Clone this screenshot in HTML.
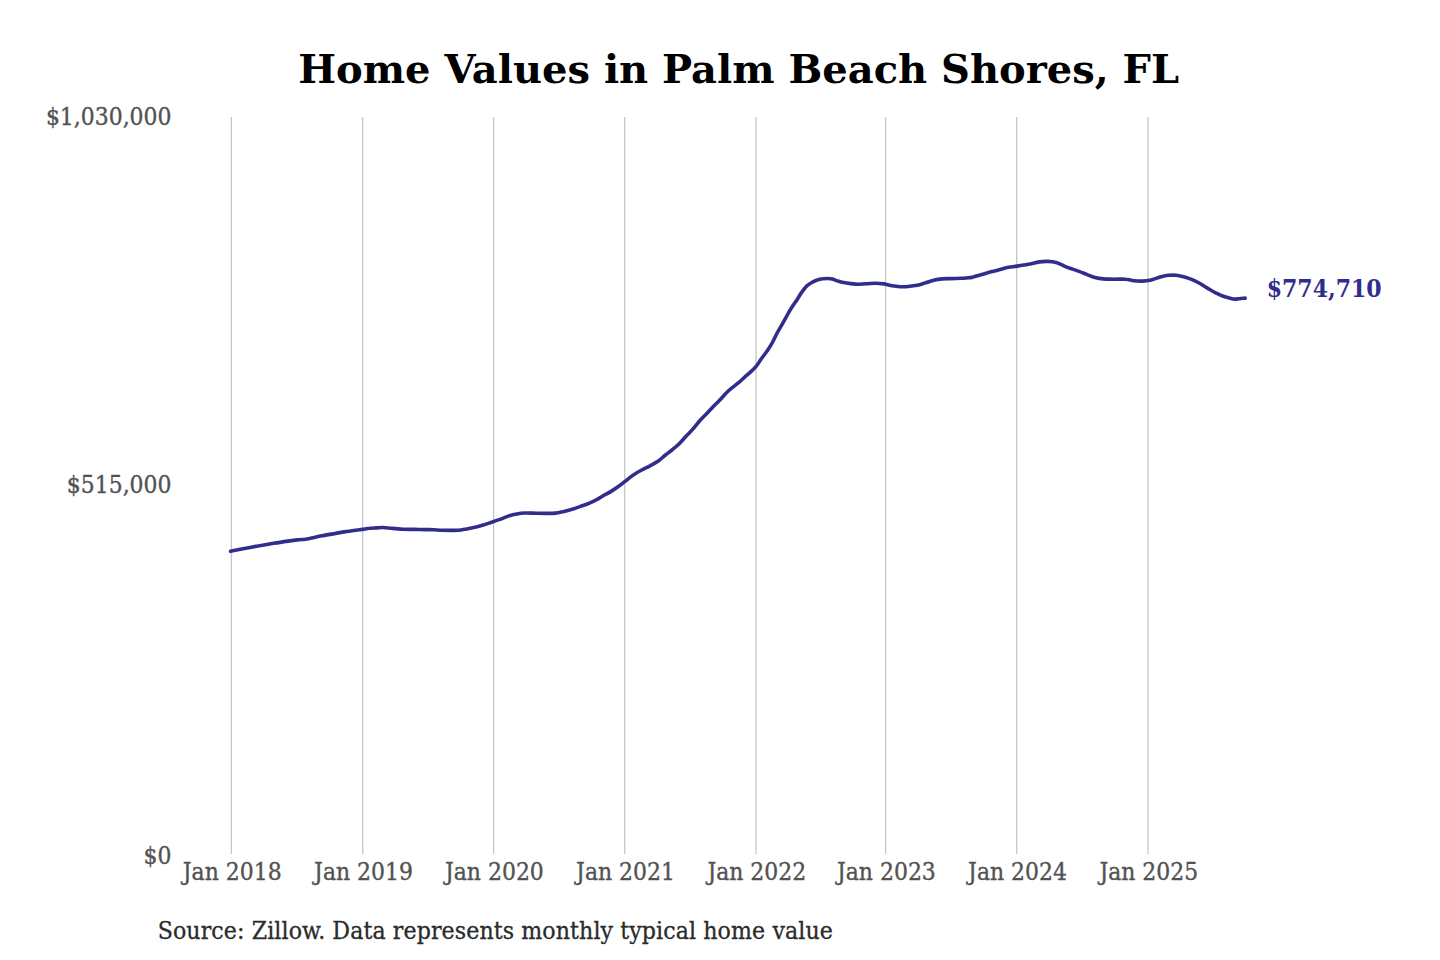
<!DOCTYPE html>
<html><head><meta charset="utf-8"><title>Home Values in Palm Beach Shores, FL</title>
<style>
html,body{margin:0;padding:0;background:#fff;}
body{width:1440px;height:960px;overflow:hidden;}
svg{display:block;}
.t{font-family:"DejaVu Serif","Liberation Serif",serif;font-weight:bold;font-size:40px;fill:#000;}
.ax{font-family:"DejaVu Serif Condensed","DejaVu Serif","Liberation Serif",serif;font-stretch:condensed;font-size:24.4px;fill:#525252;stroke:#525252;stroke-width:0.35px;}
.src{font-family:"DejaVu Serif Condensed","DejaVu Serif","Liberation Serif",serif;font-stretch:condensed;font-size:24.6px;letter-spacing:0.09px;fill:#2b2b2b;stroke:#2b2b2b;stroke-width:0.3px;}
.val{font-family:"DejaVu Serif Condensed","DejaVu Serif","Liberation Serif",serif;font-stretch:condensed;font-weight:bold;font-size:24.5px;fill:#322d8c;}
</style></head>
<body>
<svg width="1440" height="960" viewBox="0 0 1440 960">
<rect width="1440" height="960" fill="#fff"/>
<text class="t" x="738.7" y="83" text-anchor="middle">Home Values in Palm Beach Shores, FL</text>
<g stroke="#c6c6c6" stroke-width="1.3">
<line x1="231.4" y1="117.0" x2="231.4" y2="854.0"/>
<line x1="362.7" y1="117.0" x2="362.7" y2="854.0"/>
<line x1="493.6" y1="117.0" x2="493.6" y2="854.0"/>
<line x1="624.7" y1="117.0" x2="624.7" y2="854.0"/>
<line x1="756.0" y1="117.0" x2="756.0" y2="854.0"/>
<line x1="885.6" y1="117.0" x2="885.6" y2="854.0"/>
<line x1="1016.7" y1="117.0" x2="1016.7" y2="854.0"/>
<line x1="1148.0" y1="117.0" x2="1148.0" y2="854.0"/>
</g>
<g class="ax" text-anchor="end">
<text transform="translate(171.5 124.5) scale(1 0.96)">$1,030,000</text>
<text transform="translate(171.5 492.6) scale(1 0.96)">$515,000</text>
<text transform="translate(171.5 863.9) scale(1 0.96)">$0</text>
</g>
<g class="ax" text-anchor="middle">
<text transform="translate(232.2 880) scale(1 0.96)">Jan 2018</text>
<text transform="translate(363.5 880) scale(1 0.96)">Jan 2019</text>
<text transform="translate(494.4 880) scale(1 0.96)">Jan 2020</text>
<text transform="translate(625.5 880) scale(1 0.96)">Jan 2021</text>
<text transform="translate(756.8 880) scale(1 0.96)">Jan 2022</text>
<text transform="translate(886.4 880) scale(1 0.96)">Jan 2023</text>
<text transform="translate(1017.5 880) scale(1 0.96)">Jan 2024</text>
<text transform="translate(1148.8 880) scale(1 0.96)">Jan 2025</text>
</g>
<path d="M230.6 551.3 C232.4 550.9 238.0 549.7 241.7 549.0 C245.4 548.3 249.1 547.6 252.8 546.9 C256.5 546.2 260.2 545.6 263.9 545.0 C267.6 544.4 271.3 543.7 275.0 543.1 C278.7 542.5 282.4 541.9 286.1 541.4 C289.8 540.9 294.0 540.3 297.2 539.9 C300.4 539.5 303.0 539.5 305.3 539.2 C307.6 538.9 308.3 538.7 311.1 538.1 C313.9 537.5 318.5 536.5 322.2 535.8 C325.9 535.1 329.6 534.5 333.3 533.9 C337.0 533.2 340.7 532.5 344.4 531.9 C348.1 531.3 352.6 530.7 355.6 530.3 C358.6 529.9 359.9 529.7 362.2 529.4 C364.5 529.1 367.1 528.5 369.4 528.3 C371.7 528.0 373.7 528.0 376.0 527.9 C378.3 527.8 380.7 527.4 383.3 527.5 C385.9 527.6 388.4 528.0 391.7 528.3 C394.9 528.6 399.1 529.0 402.8 529.2 C406.5 529.4 410.2 529.3 413.9 529.4 C417.6 529.5 421.8 529.5 425.0 529.6 C428.2 529.7 430.5 529.6 433.3 529.7 C436.1 529.8 438.9 530.2 441.7 530.3 C444.5 530.4 447.2 530.4 450.0 530.4 C452.8 530.4 455.5 530.5 458.3 530.3 C461.1 530.0 463.9 529.4 466.7 528.9 C469.5 528.4 472.2 527.9 475.0 527.2 C477.8 526.6 480.5 525.8 483.3 525.0 C486.1 524.2 488.9 523.1 491.7 522.2 C494.5 521.3 497.2 520.4 500.0 519.4 C502.8 518.4 505.5 517.0 508.3 516.1 C511.1 515.2 513.9 514.4 516.7 513.9 C519.5 513.4 521.8 513.1 525.0 513.0 C528.2 512.9 532.4 513.2 536.1 513.3 C539.8 513.4 544.0 513.4 547.2 513.4 C550.5 513.4 552.8 513.4 555.6 513.1 C558.4 512.8 561.1 512.0 563.9 511.4 C566.7 510.8 569.4 510.0 572.2 509.2 C575.0 508.4 577.8 507.4 580.6 506.4 C583.4 505.4 586.1 504.5 588.9 503.3 C591.7 502.1 594.7 500.7 597.2 499.4 C599.7 498.1 601.7 496.6 604.0 495.3 C606.3 494.0 608.5 493.0 611.1 491.4 C613.7 489.8 617.1 487.5 619.4 485.8 C621.7 484.1 622.7 483.2 625.0 481.4 C627.3 479.6 630.5 476.9 633.3 475.0 C636.1 473.1 638.9 471.5 641.7 470.0 C644.5 468.5 647.2 467.3 650.0 465.8 C652.8 464.3 655.7 462.9 658.3 461.1 C660.9 459.3 663.1 456.9 665.5 455.0 C667.9 453.1 670.2 451.4 672.5 449.5 C674.8 447.6 677.0 445.9 679.2 443.7 C681.5 441.5 683.7 438.7 686.0 436.3 C688.3 433.9 690.6 431.8 692.8 429.2 C695.1 426.6 697.2 423.6 699.5 421.0 C701.8 418.4 704.0 416.3 706.3 413.9 C708.6 411.5 710.9 409.1 713.1 406.8 C715.4 404.5 717.5 402.5 719.8 400.1 C722.1 397.7 724.7 394.4 727.0 392.2 C729.2 390.0 731.1 388.6 733.2 386.9 C735.3 385.2 737.4 383.7 739.5 381.9 C741.5 380.1 743.6 378.1 745.7 376.2 C747.8 374.4 750.2 372.3 752.0 370.6 C753.7 368.9 754.7 368.2 756.3 366.2 C757.9 364.3 759.4 361.4 761.3 358.8 C763.2 356.1 765.7 353.1 767.6 350.3 C769.5 347.5 771.1 345.0 772.7 342.0 C774.3 339.0 775.5 336.0 777.4 332.5 C779.3 329.0 781.9 324.7 784.1 320.8 C786.3 316.9 788.6 312.6 790.7 309.1 C792.8 305.6 795.1 302.6 797.0 299.7 C798.8 296.8 800.3 294.2 802.0 291.9 C803.7 289.5 805.6 287.2 807.2 285.6 C808.9 284.0 810.3 283.4 811.9 282.5 C813.5 281.6 814.8 280.8 816.6 280.2 C818.4 279.6 820.9 279.0 822.8 278.8 C824.7 278.5 826.4 278.5 828.0 278.5 C829.6 278.5 831.0 278.6 832.5 279.0 C834.0 279.4 835.1 280.1 836.7 280.6 C838.3 281.1 839.9 281.7 842.2 282.2 C844.5 282.7 847.8 283.3 850.6 283.6 C853.4 283.9 856.1 284.2 858.9 284.2 C861.7 284.2 864.4 284.0 867.2 283.8 C870.0 283.6 872.8 283.2 875.6 283.2 C878.4 283.2 881.1 283.5 883.9 283.9 C886.7 284.3 889.5 285.3 892.2 285.8 C894.9 286.3 897.7 286.6 900.0 286.7 C902.3 286.8 903.2 286.9 906.1 286.7 C909.0 286.5 914.0 285.9 917.2 285.3 C920.5 284.7 922.8 283.6 925.6 282.8 C928.4 282.0 931.1 281.0 933.9 280.3 C936.7 279.6 939.4 279.2 942.2 278.9 C945.0 278.6 947.4 278.7 950.6 278.6 C953.9 278.5 958.8 278.3 961.7 278.2 C964.6 278.1 966.3 277.9 968.0 277.8 C969.7 277.7 970.8 277.6 972.0 277.4 C973.2 277.1 973.8 276.8 975.4 276.3 C977.0 275.8 979.3 275.3 981.7 274.6 C984.1 273.9 987.0 272.9 990.0 272.1 C993.0 271.3 997.3 270.3 1000.0 269.6 C1002.7 268.9 1003.2 268.4 1006.1 267.8 C1009.0 267.2 1013.5 266.7 1017.2 266.1 C1020.9 265.5 1024.6 264.9 1028.3 264.2 C1032.0 263.5 1036.2 262.4 1039.4 261.9 C1042.7 261.4 1045.0 261.3 1047.8 261.4 C1050.6 261.5 1053.3 261.7 1056.1 262.5 C1058.9 263.3 1062.1 265.1 1064.4 266.1 C1066.7 267.1 1067.7 267.5 1070.0 268.3 C1072.3 269.1 1075.5 270.1 1078.3 271.1 C1081.1 272.1 1083.9 273.3 1086.7 274.4 C1089.5 275.5 1092.2 276.8 1095.0 277.5 C1097.8 278.2 1100.1 278.6 1103.3 278.9 C1106.5 279.2 1110.7 279.1 1114.4 279.2 C1118.1 279.2 1122.3 278.9 1125.6 279.2 C1128.8 279.4 1131.1 280.4 1133.9 280.7 C1136.7 281.0 1139.5 281.2 1142.2 281.1 C1144.9 281.0 1147.5 280.8 1150.0 280.3 C1152.5 279.8 1154.7 278.8 1156.9 278.1 C1159.1 277.4 1161.0 276.7 1163.1 276.2 C1165.2 275.8 1167.2 275.5 1169.4 275.3 C1171.6 275.1 1174.1 275.1 1176.2 275.3 C1178.4 275.5 1180.4 275.9 1182.5 276.4 C1184.6 276.9 1186.7 277.6 1188.8 278.4 C1190.8 279.1 1193.1 280.0 1195.0 280.9 C1196.9 281.8 1197.9 282.2 1200.0 283.5 C1202.1 284.8 1205.2 286.8 1207.8 288.4 C1210.4 289.9 1213.0 291.5 1215.6 292.8 C1218.2 294.1 1220.7 295.4 1223.3 296.3 C1225.9 297.2 1229.1 298.0 1231.1 298.5 C1233.0 299.0 1233.7 299.1 1235.0 299.1 C1236.3 299.1 1237.2 298.9 1238.9 298.7 C1240.6 298.5 1244.2 298.2 1245.2 298.1" fill="none" stroke="#322d8c" stroke-width="3.6" stroke-linecap="round" stroke-linejoin="round"/>
<text class="val" transform="translate(1266.7 297.4) scale(1 0.97)">$774,710</text>
<text class="src" transform="translate(157.7 938.8) scale(1 0.95)">Source: Zillow. Data represents monthly typical home value</text>
</svg>
</body></html>
